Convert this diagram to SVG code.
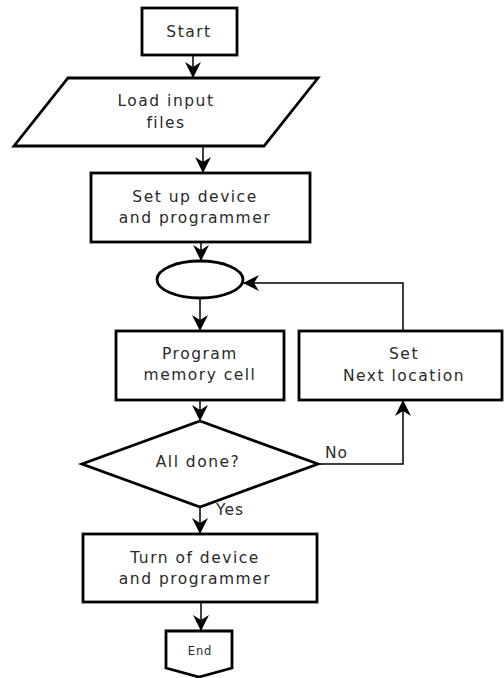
<svg xmlns="http://www.w3.org/2000/svg" width="504" height="678" viewBox="0 0 504 678">
<style>
.n{fill:#fff;stroke:#000;stroke-width:2.8;stroke-linejoin:miter}
.t{font-family:"DejaVu Sans",sans-serif;font-size:15.5px;fill:#2a2a2a;text-anchor:middle;letter-spacing:1.5px}
.c{fill:none;stroke:#000;stroke-width:1.5}
.l{font-family:"DejaVu Sans",sans-serif;font-size:15.5px;fill:#2a2a2a;letter-spacing:1px}
</style>
<defs>
<marker id="ah" markerUnits="userSpaceOnUse" markerWidth="18" markerHeight="18" viewBox="0 0 18 18" refX="16" refY="9" orient="auto">
<path d="M0,1 L16,9 L0,17 L5,9 Z" fill="#000"/>
</marker>
</defs>
<rect width="504" height="678" fill="#fff"/>
<g id="connectors">
<line class="c" x1="193" y1="55" x2="193" y2="78" marker-end="url(#ah)"/>
<line class="c" x1="203" y1="146" x2="203" y2="173" marker-end="url(#ah)"/>
<line class="c" x1="201" y1="242" x2="201" y2="261" marker-end="url(#ah)"/>
<line class="c" x1="200" y1="298" x2="200" y2="331" marker-end="url(#ah)"/>
<polyline class="c" points="403,331 403,283 243,283" marker-end="url(#ah)"/>
<line class="c" x1="200" y1="400" x2="200" y2="421" marker-end="url(#ah)"/>
<polyline class="c" points="318,464 403,464 403,400" marker-end="url(#ah)"/>
<line class="c" x1="200" y1="507" x2="200" y2="534" marker-end="url(#ah)"/>
<line class="c" x1="201" y1="602" x2="201" y2="631" marker-end="url(#ah)"/>
<text class="l" x="325" y="458">No</text>
<text class="l" x="216" y="515">Yes</text>
</g>
<g id="start">
<rect class="n" x="142" y="8" width="95" height="47"/>
<text class="t" x="189" y="37">Start</text>
</g>
<g id="load">
<polygon class="n" points="68,78 318,78 264,146 14,146"/>
<text class="t" x="166" y="106">Load input</text>
<text class="t" x="166" y="128">files</text>
</g>
<g id="setup">
<rect class="n" x="91" y="173" width="219" height="69"/>
<text class="t" x="195" y="202">Set up device</text>
<text class="t" x="195" y="223">and programmer</text>
</g>
<g id="junction">
<ellipse class="n" cx="200" cy="279.5" rx="43" ry="18.5"/>
</g>
<g id="program">
<rect class="n" x="116" y="331" width="168" height="69"/>
<text class="t" x="200" y="359">Program</text>
<text class="t" x="200" y="380">memory cell</text>
</g>
<g id="setnext">
<rect class="n" x="299" y="331" width="203" height="69"/>
<text class="t" x="404" y="359">Set</text>
<text class="t" x="404" y="381">Next location</text>
</g>
<g id="alldone">
<polygon class="n" points="200,421 318,464 200,507 82,464"/>
<text class="t" x="198" y="467">All done?</text>
</g>
<g id="turnoff">
<rect class="n" x="83" y="534" width="234" height="68"/>
<text class="t" x="195" y="563">Turn of device</text>
<text class="t" x="195" y="584">and programmer</text>
</g>
<g id="end">
<polygon class="n" points="166,631 232,631 232,668 199,677 166,668"/>
<text class="t" x="200" y="655" style="font-size:11.5px;letter-spacing:0.8px">End</text>
</g>
</svg>
